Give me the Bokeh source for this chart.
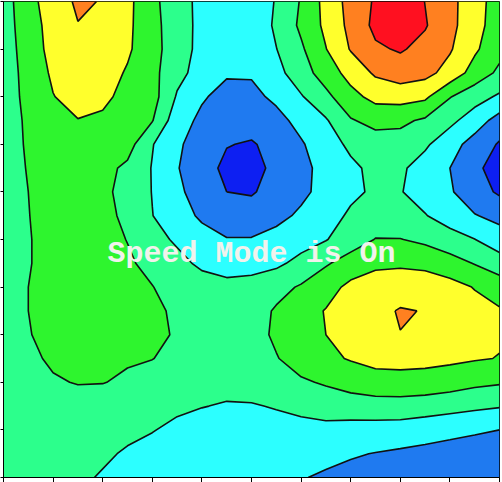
import numpy as np
from bokeh.plotting import figure
from bokeh.models import FixedTicker, Label, CustomJSTickFormatter
from bokeh.embed import file_html
from bokeh.resources import INLINE

# grid coordinates (x: 10 tick intervals, y: 10 tick intervals)
grid_x = [0.0, 0.5, 1.0, 1.5, 2.0, 2.5, 3.0, 3.5, 4.0, 4.5, 5.0,
          5.5, 6.0, 6.5, 7.0, 7.5, 8.0, 8.5, 9.0, 9.5, 10.0]
grid_y = [0.0, 0.5, 1.0, 1.5, 2.0, 2.5, 3.0, 3.5, 4.0, 4.5, 5.0,
          5.5, 6.0, 6.5, 7.0, 7.5, 8.0, 8.5, 9.0, 9.5, 10.0]

# surface values, one row per y value
z_y10_0 = [3.55, 4.67, 5.5, 6.15, 5.95, 5.25, 4.26, 3.39, 2.75, 2.3, 2.35, 3.07, 4.08, 5.32, 6.35, 7.12, 7.8, 6.98, 6.27, 5.44, 4.5]
z_y9_5 = [3.5, 4.6, 5.33, 5.97, 5.75, 5.2, 4.33, 3.43, 2.75, 2.25, 2.3, 3.16, 4.19, 5.22, 6.27, 7.25, 7.75, 7.08, 6.27, 5.39, 4.45]
z_y9_0 = [3.45, 4.5, 5.3, 5.7, 5.6, 5.15, 4.34, 3.48, 2.7, 2.15, 2.2, 2.98, 3.85, 4.97, 6.07, 6.85, 7.1, 6.7, 6.1, 5.16, 4.3]
z_y8_5 = [3.45, 4.37, 5.15, 5.55, 5.45, 4.9, 4.29, 3.3, 2.6, 2.1, 2.1, 2.7, 3.54, 4.48, 5.35, 6.15, 6.5, 6.3, 5.64, 4.59, 3.8]
z_y8_0 = [3.45, 4.3, 4.97, 5.35, 5.2, 4.72, 4.4, 2.9, 2.1, 1.7, 1.75, 2.2, 2.92, 3.74, 4.7, 5.3, 5.4, 5.2, 4.05, 3.4, 2.85]
z_y7_5 = [3.4, 4.2, 4.7, 4.97, 4.85, 4.45, 4.05, 2.4, 1.8, 1.4, 1.45, 1.7, 2.3, 2.9, 3.92, 4.3, 4.2, 3.85, 3.25, 2.5, 1.6]
z_y7_0 = [3.4, 4.15, 4.45, 4.55, 4.45, 4.4, 3.05, 2.15, 1.55, 1.05, 0.9, 1.35, 1.9, 2.55, 3.2, 3.55, 3.6, 3.15, 2.4, 1.6, 0.9]
z_y6_5 = [3.35, 4.08, 4.35, 4.4, 4.3, 3.8, 2.95, 2.05, 1.45, 0.75, 0.6, 1.3, 1.75, 2.3, 2.8, 3.25, 3.15, 2.6, 2.0, 1.2, 0.6]
z_y6_0 = [3.35, 4.0, 4.3, 4.35, 4.2, 3.7, 2.97, 2.2, 1.55, 1.0, 0.9, 1.4, 1.8, 2.3, 2.8, 3.15, 3.05, 2.6, 2.1, 1.45, 0.85]
z_y5_5 = [3.35, 3.98, 4.3, 4.35, 4.2, 3.85, 3.02, 2.4, 1.85, 1.45, 1.5, 1.75, 2.15, 2.6, 3.15, 3.5, 3.35, 3.05, 2.55, 2.05, 1.75]
z_y5_0 = [3.3, 3.95, 4.3, 4.35, 4.25, 3.98, 3.35, 2.85, 2.35, 2.05, 2.05, 2.3, 2.6, 2.95, 3.55, 4.03, 4.03, 3.8, 3.4, 3.02, 2.4]
z_y4_5 = [3.3, 3.95, 4.3, 4.35, 4.3, 4.1, 3.8, 3.3, 2.8, 2.55, 2.6, 2.8, 3.3, 3.9, 4.4, 4.75, 4.8, 4.7, 4.4, 3.95, 3.5]
z_y4_0 = [3.3, 4.0, 4.3, 4.35, 4.3, 4.2, 4.02, 3.7, 3.45, 3.3, 3.4, 3.7, 4.1, 4.6, 5.25, 5.6, 5.75, 5.65, 5.35, 4.95, 4.5]
z_y3_5 = [3.3, 4.0, 4.3, 4.35, 4.3, 4.25, 4.1, 3.92, 3.6, 3.45, 3.6, 4.1, 4.6, 5.05, 5.45, 5.85, 6.04, 5.98, 5.6, 5.35, 5.1]
z_y3_0 = [3.25, 3.95, 4.3, 4.35, 4.3, 4.25, 4.12, 3.95, 3.6, 3.45, 3.65, 4.15, 4.6, 5.0, 5.35, 5.6, 5.99, 5.92, 5.5, 5.3, 5.1]
z_y2_5 = [3.25, 3.8, 4.15, 4.25, 4.2, 4.1, 4.02, 3.75, 3.45, 3.35, 3.5, 3.95, 4.4, 4.8, 5.07, 5.3, 5.35, 5.3, 5.2, 5.08, 4.97]
z_y2_0 = [3.2, 3.55, 3.9, 4.05, 4.03, 3.85, 3.6, 3.4, 3.2, 3.2, 3.3, 3.6, 3.88, 4.1, 4.4, 4.6, 4.62, 4.58, 4.45, 4.22, 4.1]
z_y1_5 = [3.2, 3.35, 3.5, 3.55, 3.5, 3.35, 3.2, 3.08, 3.02, 2.95, 2.95, 3.05, 3.2, 3.45, 3.5, 3.58, 3.6, 3.5, 3.35, 3.2, 3.07]
z_y1_0 = [3.2, 3.25, 3.25, 3.25, 3.2, 3.1, 3.02, 2.9, 2.75, 2.7, 2.7, 2.72, 2.75, 2.72, 2.65, 2.6, 2.55, 2.4, 2.25, 2.12, 2.0]
z_y0_5 = [3.3, 3.3, 3.25, 3.17, 3.07, 2.95, 2.85, 2.75, 2.6, 2.5, 2.45, 2.4, 2.32, 2.2, 2.08, 1.97, 1.85, 1.75, 1.65, 1.55, 1.45]
z_y0_0 = [3.3, 3.25, 3.17, 3.08, 2.96, 2.8, 2.7, 2.55, 2.4, 2.3, 2.2, 2.1, 2.04, 1.9, 1.75, 1.6, 1.5, 1.4, 1.3, 1.25, 1.2]

contour_levels = [-1, 1, 2, 3, 4, 5, 6, 7, 9]
band_colors = ["#0D1FF2", "#1F7AF0", "#2CFFFF", "#2CFF8C",
               "#2EF52E", "#FFFF2C", "#FF8020", "#FF1020"]
tick_positions = [0, 1, 2, 3, 4, 5, 6, 7, 8, 9, 10]
overlay_text = "Speed Mode is On"

Z = np.array([z_y0_0, z_y0_5, z_y1_0, z_y1_5, z_y2_0, z_y2_5, z_y3_0,
              z_y3_5, z_y4_0, z_y4_5, z_y5_0, z_y5_5, z_y6_0, z_y6_5,
              z_y7_0, z_y7_5, z_y8_0, z_y8_5, z_y9_0, z_y9_5, z_y10_0])

p = figure(width=502, height=482, x_range=(0, 10), y_range=(0, 10),
           output_backend="svg", toolbar_location=None,
           min_border_left=0, min_border_right=3,
           min_border_top=1, min_border_bottom=0)

p.contour(np.array(grid_x), np.array(grid_y), Z, contour_levels,
          fill_color=band_colors, line_color="#111111", line_width=1.6)

p.grid.visible = False
for ax in (p.xaxis[0], p.yaxis[0]):
    ax.ticker = FixedTicker(ticks=tick_positions)
    ax.formatter = CustomJSTickFormatter(code="return '';")
    ax.major_label_text_font_size = "1px"
    ax.major_label_standoff = 0
    ax.minor_tick_line_color = None
    ax.major_tick_in = 0
    ax.axis_line_color = "black"
    ax.major_tick_line_color = "black"
p.xaxis[0].major_tick_out = 5
p.yaxis[0].major_tick_out = 3

p.outline_line_color = "black"
p.outline_line_width = 1

p.add_layout(Label(x=5, y=4.70, text=overlay_text, text_align="center",
                   text_baseline="alphabetic", text_font="Liberation Mono",
                   text_font_style="bold", text_font_size="30px",
                   text_color="#F2F2EC"))

open("out.html", "w").write(file_html(p, INLINE))
